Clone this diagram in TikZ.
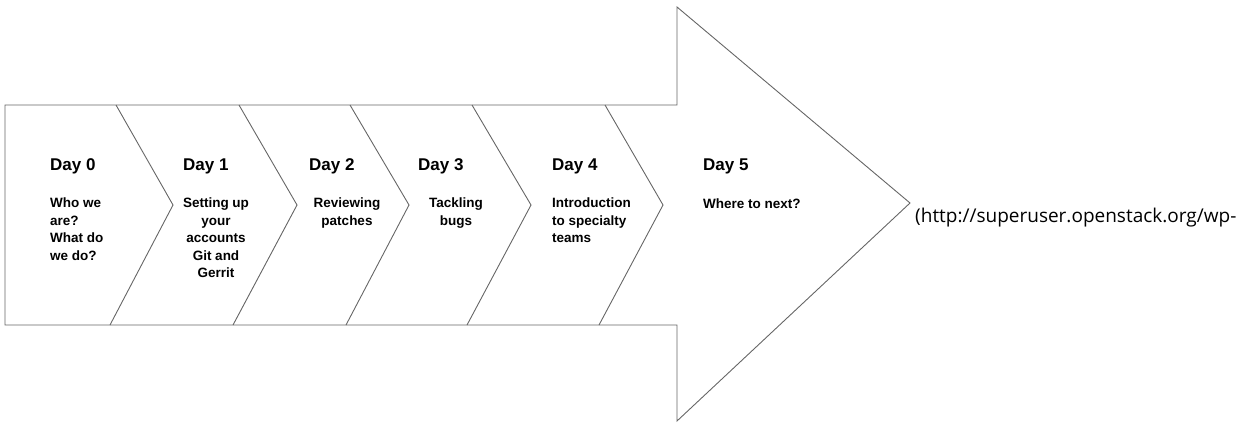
\documentclass[tikz,border=0pt]{standalone}
\usepackage{fontspec}
\setmainfont{Liberation Sans}
\newfontfamily\urlfont{Open Sans}
\begin{document}
\begin{tikzpicture}[x=1pt, y=-1pt,
  outline/.style={draw=black!60, line width=0.9pt},
  daytitle/.style={anchor=base west, inner sep=0pt,
    font=\fontsize{17}{20}\selectfont\bfseries},
  daytext/.style={inner sep=0pt,
    font=\fontsize{13.5}{17.5}\selectfont\bfseries}]
  \useasboundingbox (0,0) rectangle (1238,423);
  \draw [outline] (5,105) -- (677,105) -- (677,7) -- (910,203)
                  -- (677,421) -- (677,325) -- (5,325) -- cycle;
  \foreach \t/\p/\b in {116/173/110, 239/297/233, 350/409/346,
                        472/531/467, 605/663/599}
    \draw [outline] (\t,105) -- (\p,205) -- (\b,325);
  \node [daytitle] (day0) at (50,170) {Day 0};
  \node [daytitle] (day1) at (183,170) {Day 1};
  \node [daytitle] (day2) at (309,170) {Day 2};
  \node [daytitle] (day3) at (418,170) {Day 3};
  \node [daytitle] (day4) at (552,170) {Day 4};
  \node [daytitle] (day5) at (703,170) {Day 5};
  \node [daytext, anchor=north west, align=left] (day0text) at (50,198)
        {Who we\\are?\\What do\\we do?};
  \node [daytext, anchor=north, align=center] (day1text) at (216,198)
        {Setting up\\your\\accounts\\Git and\\Gerrit};
  \node [daytext, anchor=north, align=center] (day2text) at (347,198)
        {Reviewing\\patches};
  \node [daytext, anchor=north, align=center] (day3text) at (456,198)
        {Tackling\\bugs};
  \node [daytext, anchor=north west, align=left] (day4text) at (552,198)
        {Introduction\\to specialty\\teams};
  \node [daytext, anchor=base west] (day5text) at (703,208) {Where to next?};
  \node [anchor=base west, inner sep=0pt,
         font=\urlfont\fontsize{19}{23}\selectfont] (source) at (915,222)
        {(http://superuser.openstack.org/wp-};
\end{tikzpicture}
\end{document}
